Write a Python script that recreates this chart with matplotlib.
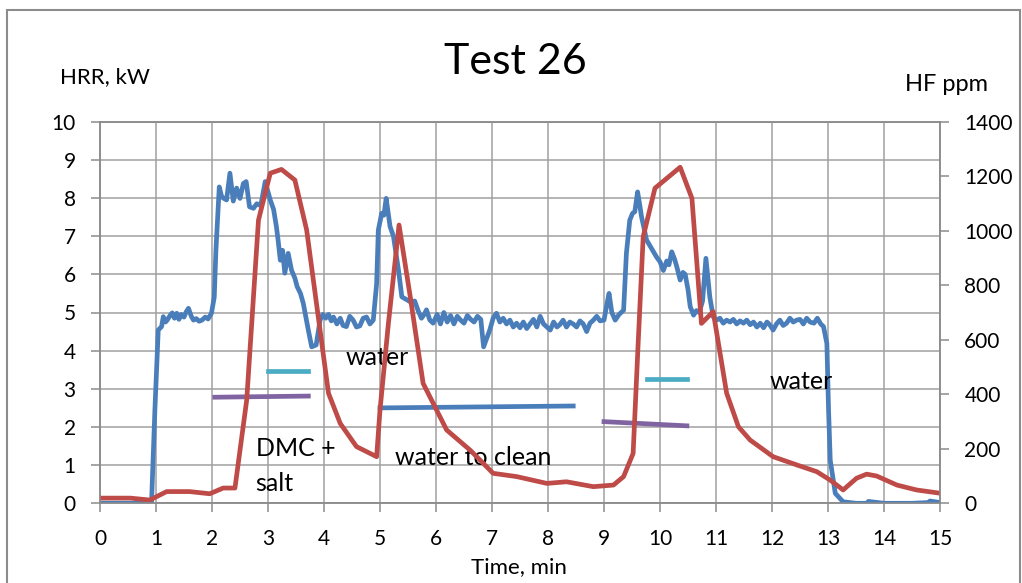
import matplotlib
matplotlib.use("Agg")
import matplotlib.pyplot as plt
from matplotlib.patches import Rectangle

plt.rcParams['font.family'] = ['Lato', 'DejaVu Sans']

# ---------------- data ----------------
hrr_time = [0.0, 0.92, 0.98, 1.04, 1.10, 1.13, 1.17, 1.20, 1.25, 1.29, 1.33, 1.37, 1.41, 1.45, 1.50,
            1.54, 1.58, 1.63, 1.67, 1.72, 1.77, 1.82, 1.88, 1.93, 1.99,
            2.04, 2.07, 2.13, 2.17, 2.20, 2.26, 2.32, 2.38, 2.44, 2.50, 2.56, 2.61, 2.67, 2.74, 2.80, 2.87,
            2.95, 3.04, 3.10, 3.15, 3.18, 3.22, 3.26, 3.30, 3.36, 3.42, 3.48, 3.52, 3.58, 3.63, 3.72,
            3.78, 3.86, 3.93, 3.98, 4.03, 4.08, 4.13, 4.17, 4.23, 4.29, 4.34, 4.40, 4.46, 4.52, 4.58,
            4.64, 4.70, 4.76, 4.82, 4.88, 4.94, 4.97, 5.03,
            5.07, 5.11, 5.18, 5.24, 5.33, 5.39, 5.46, 5.54, 5.62, 5.68, 5.74, 5.79, 5.83, 5.89, 5.95,
            6.02, 6.08, 6.14, 6.20, 6.26, 6.32, 6.38, 6.44, 6.50, 6.56, 6.62, 6.68, 6.74, 6.80,
            6.85, 6.90, 6.96, 7.02, 7.08, 7.14, 7.20, 7.26, 7.32, 7.38, 7.44, 7.50, 7.56, 7.62, 7.68,
            7.74, 7.80, 7.86, 7.92, 7.98, 8.04, 8.10, 8.16, 8.21, 8.27, 8.33, 8.39, 8.45, 8.51, 8.57,
            8.63, 8.69, 8.75, 8.81, 8.87, 8.93, 9.00, 9.05, 9.09, 9.14,
            9.20, 9.27, 9.35, 9.40, 9.46, 9.51, 9.55, 9.60, 9.64, 9.67, 9.76, 9.82, 9.88, 9.94, 10.00,
            10.06, 10.12, 10.16, 10.21, 10.26, 10.30, 10.36, 10.41, 10.45, 10.50, 10.54, 10.60, 10.65,
            10.70, 10.76, 10.82, 10.89, 10.95, 11.01, 11.07, 11.13, 11.19, 11.25, 11.31, 11.37, 11.43,
            11.49, 11.55, 11.61, 11.67, 11.73, 11.79, 11.85, 11.91, 11.96, 12.02, 12.08, 12.14, 12.20,
            12.26, 12.32, 12.38, 12.44, 12.50, 12.56, 12.62, 12.68, 12.75, 12.81, 12.87, 12.92,
            12.98, 13.01, 13.04, 13.13, 13.27, 13.50, 13.70, 13.72, 14.0, 14.5, 14.8, 14.82, 15.0]
hrr_kw = [0.0, 0.0, 2.44, 4.54, 4.63, 4.89, 4.75, 4.80, 4.92, 4.99, 4.85, 4.98, 4.82, 4.95, 4.88,
          5.02, 5.11, 4.90, 4.80, 4.84, 4.77, 4.80, 4.88, 4.83, 4.98,
          5.40, 6.63, 8.29, 8.05, 8.00, 7.95, 8.65, 7.92, 8.26, 7.99, 8.38, 8.43, 7.77, 7.73, 7.85, 7.80,
          8.43, 7.95, 7.70, 7.25, 6.90, 6.37, 6.63, 6.03, 6.55, 6.11, 5.90, 5.68, 5.50, 5.24, 4.54,
          4.10, 4.15, 4.80, 4.95, 4.85, 4.95, 4.78, 4.88, 4.70, 4.85, 4.66, 4.63, 4.90, 4.80, 4.62,
          4.65, 4.85, 4.88, 4.70, 4.80, 5.76, 7.16, 7.60,
          7.55, 7.99, 7.25, 7.00, 6.11, 5.41, 5.35, 5.28, 5.30, 5.05, 4.85, 4.95, 5.07, 4.80, 4.72,
          4.95, 4.70, 5.00, 4.75, 4.92, 4.70, 4.90, 4.80, 4.72, 4.92, 4.82, 4.75, 4.90, 4.82,
          4.10, 4.30, 4.54, 4.85, 4.98, 4.75, 4.85, 4.70, 4.80, 4.62, 4.72, 4.60, 4.75, 4.58, 4.70,
          4.82, 4.62, 4.90, 4.70, 4.62, 4.54, 4.75, 4.62, 4.68, 4.80, 4.62, 4.75, 4.70, 4.62, 4.78,
          4.70, 4.50, 4.72, 4.80, 4.90, 4.78, 4.80, 5.20, 5.50, 5.00,
          4.80, 4.95, 5.06, 6.55, 7.42, 7.60, 7.64, 8.16, 7.80, 7.51, 6.90, 6.75, 6.60, 6.45, 6.33,
          6.10, 6.35, 6.25, 6.59, 6.40, 6.20, 5.85, 6.05, 6.00, 5.60, 5.15, 4.93, 5.05,
          5.00, 5.30, 6.42, 5.40, 4.89, 4.80, 4.85, 4.72, 4.80, 4.75, 4.82, 4.70, 4.78,
          4.72, 4.80, 4.68, 4.75, 4.62, 4.72, 4.60, 4.75, 4.68, 4.54, 4.70, 4.80, 4.66,
          4.72, 4.85, 4.75, 4.80, 4.82, 4.70, 4.85, 4.75, 4.72, 4.85, 4.70, 4.63,
          4.19, 2.44, 1.13, 0.26, 0.04, 0.0, 0.0, 0.05, 0.0, 0.0, 0.02, 0.06, 0.02]

hf_time = [0.0, 0.54, 0.89, 1.19, 1.60, 1.96, 2.20, 2.41, 2.62, 2.83, 3.04, 3.24, 3.48, 3.69, 4.08,
           4.29, 4.58, 4.94, 5.00, 5.15, 5.34, 5.54, 5.77, 6.19, 6.61, 7.02, 7.44, 7.98, 8.33, 8.81,
           9.17, 9.35, 9.52, 9.61, 9.70, 9.91, 10.36, 10.57, 10.74, 10.95, 11.19, 11.40, 11.61, 12.02,
           12.44, 12.80, 13.04, 13.27, 13.51, 13.69, 13.87, 14.23, 14.58, 15.0]
hf_ppm = [19, 19, 12, 43, 43, 35, 56, 56, 379, 1039, 1211, 1225, 1186, 1003, 404,
          293, 208, 171, 342, 660, 1021, 758, 440, 269, 195, 110, 98, 73, 79, 61,
          67, 98, 183, 587, 978, 1156, 1233, 1119, 660, 703, 404, 281, 232, 171,
          141, 116, 85, 49, 92, 107, 100, 67, 49, 37]

# annotation bars (time start, time end, kW start, kW end)
cyan_bars = [(3.0, 3.72, 3.47, 3.47), (9.76, 10.48, 3.27, 3.27)]
purple_bars = [(2.05, 3.72, 2.78, 2.81), (9.0, 10.48, 2.14, 2.03)]
blue_bars = [(5.0, 8.45, 2.50, 2.55)]

notes = [("water", 4.38, 3.81), ("DMC +", 2.78, 1.43), ("salt", 2.78, 0.53),
         ("water to clean", 5.27, 1.21), ("water", 11.96, 3.18)]

x_ticks = list(range(0, 16))
y_ticks = list(range(0, 11))
y2_ticks = [0, 200, 400, 600, 800, 1000, 1200, 1400]

# ---------------- style ----------------
BLUE = '#4A7EBB'
RED = '#BE4B48'
CYAN = '#4BACC6'
PURPLE = '#8064A2'
GRID = '#A0A0A0'
AX = '#8C8C8C'
LW = 3.4

fig = plt.figure(figsize=(10.22, 5.83), dpi=100)
ax = fig.add_axes([100/1022, 1-503.3/583, 840/1022, (503.3-121.7)/583])
ax2 = ax.twinx()

ax.plot(hrr_time, hrr_kw, color=BLUE, lw=LW, solid_joinstyle='round', zorder=3)
for (x0, x1, y0, y1) in cyan_bars:
    ax.plot([x0, x1], [y0, y1], color=CYAN, lw=LW, zorder=2)
for (x0, x1, y0, y1) in purple_bars:
    ax.plot([x0, x1], [y0, y1], color=PURPLE, lw=LW, zorder=2)
for (x0, x1, y0, y1) in blue_bars:
    ax.plot([x0, x1], [y0, y1], color=BLUE, lw=LW, zorder=2)
for (t, x, y) in notes:
    ax.text(x, y, t, fontsize=18, va='center', ha='left', color='black', zorder=4)

ax2.plot(hf_time, hf_ppm, color=RED, lw=LW, solid_joinstyle='round')

ax.set_xlim(0, 15)
ax.set_ylim(0, 10)
ax2.set_ylim(0, 1400)
ax.set_xticks(x_ticks)
ax.set_yticks(y_ticks)
ax2.set_yticks(y2_ticks)

ax.grid(True, color=GRID, lw=1.1)
ax.set_axisbelow(True)

for a in (ax, ax2):
    for s in a.spines.values():
        s.set_color(AX)
        s.set_linewidth(1.1)

ax.tick_params(axis='y', direction='out', length=6.5, width=1.1, color=AX, pad=11, labelsize=15)
ax.tick_params(axis='x', direction='out', length=6.5, width=1.1, color=AX, pad=12, labelsize=15)
ax2.tick_params(axis='y', direction='out', length=6.5, width=1.1, color=AX, pad=11, labelsize=15)

fig.text(0.504, 1-62/583, "Test 26", fontsize=31, ha='center', va='center')
fig.text(60/1022, 1-77/583, "HRR, kW", fontsize=16, ha='left', va='center')
fig.text(905/1022, 1-84/583, "HF ppm", fontsize=17, ha='left', va='center')
fig.text(519/1022, 1-567/583, "Time, min", fontsize=16, ha='center', va='center')

fig.patches.append(Rectangle((7/1022, -0.02), 1013/1022, 1.02-10/583, transform=fig.transFigure,
                             fill=False, edgecolor=AX, lw=1.5))

fig.savefig("out.png", dpi=100)
